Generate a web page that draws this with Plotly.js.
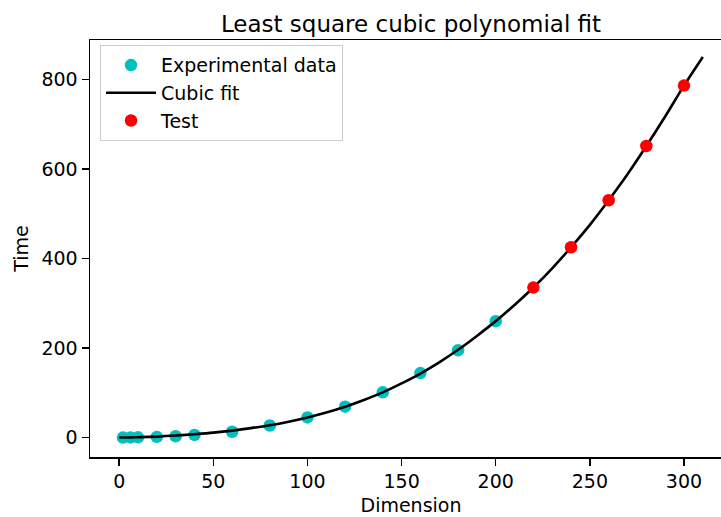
<!DOCTYPE html>
<html>
<head>
<meta charset="utf-8">
<script src="https://cdn.plot.ly/plotly-3.0.1.min.js"></script>
<style>
html, body { margin: 0; padding: 0; overflow: hidden; background: #fff; }
#chart { width: 740px; height: 517px; }
</style>
</head>
<body>
<div id="chart"></div>
<script>
// Experimental data (cyan points)
var expX = [2, 6, 10, 20, 30, 40, 60, 80, 100, 120, 140, 160, 180, 200];
var expY = [0, 0.3, 0.6, 1.5, 3, 6, 13, 27, 45, 69, 101, 144, 195, 260];

// Test data (red points)
var testX = [220, 240, 260, 280, 300];
var testY = [335, 425, 530, 651, 786];

// Cubic fit curve
var fitX = [0, 10, 20, 30, 40, 50, 60, 70, 80, 90, 100, 110, 120, 130, 140, 150,
            160, 170, 180, 190, 200, 210, 220, 230, 240, 250, 260, 270, 280, 290, 300, 310];
var fitY = [0, 0.7, 2.2, 4.5, 7.5, 11, 15.5, 21, 27.5, 35.5, 45, 56, 69, 84, 101, 121,
            143, 168, 196, 227, 260, 296, 335, 378, 425, 475, 530, 588, 651, 717, 786, 850];

var xTicks = [0, 50, 100, 150, 200, 250, 300];
var yTicks = [0, 200, 400, 600, 800];

var FONT = "DejaVu Sans, Verdana, sans-serif";

var traces = [
  {
    x: expX, y: expY, mode: 'markers', type: 'scatter', name: 'Experimental data',
    marker: { color: '#00bfbf', size: 12.5, line: { width: 0 } }
  },
  {
    x: fitX, y: fitY, mode: 'lines', type: 'scatter', name: 'Cubic fit',
    line: { color: '#000000', width: 2.6, shape: 'spline' }
  },
  {
    x: testX, y: testY, mode: 'markers', type: 'scatter', name: 'Test',
    marker: { color: '#ff0000', size: 12.5, line: { width: 0 } }
  }
];

var axisCommon = {
  showgrid: false, zeroline: false,
  showline: true, linecolor: '#000', linewidth: 1.5, mirror: true,
  ticks: 'outside', ticklen: 7, tickwidth: 1.5, tickcolor: '#000',
  tickfont: { family: FONT, size: 19, color: '#000' }
};

var layout = {
  width: 740, height: 517,
  margin: { l: 90, r: 8, t: 40, b: 60, pad: 0 },
  paper_bgcolor: '#fff', plot_bgcolor: '#fff',
  font: { family: FONT, size: 19, color: '#000' },
  title: {
    text: 'Least square cubic polynomial fit',
    font: { family: FONT, size: 23, color: '#000' },
    x: 0.5, xref: 'paper', xanchor: 'center',
    y: 1, yref: 'paper', yanchor: 'bottom', pad: { b: 8 }
  },
  xaxis: Object.assign({}, axisCommon, {
    range: [-15.5, 325.5], tickvals: xTicks, ticktext: xTicks.map(String),
    title: { text: 'Dimension', font: { family: FONT, size: 19, color: '#000' }, standoff: 7 }
  }),
  yaxis: Object.assign({}, axisCommon, {
    range: [-43.4, 887.8], tickvals: yTicks, ticktext: yTicks.map(String),
    title: { text: 'Time', font: { family: FONT, size: 19, color: '#000' }, standoff: 8 }
  }),
  showlegend: true,
  legend: {
    x: 0.0156, y: 0.9875, xanchor: 'left', yanchor: 'top',
    bgcolor: 'rgba(255,255,255,0.8)', bordercolor: '#cccccc', borderwidth: 1,
    font: { family: FONT, size: 19, color: '#000' },
    itemwidth: 50,
    tracegroupgap: 0
  }
};

Plotly.newPlot('chart', traces, layout, { displayModeBar: false, staticPlot: true });
</script>
</body>
</html>
